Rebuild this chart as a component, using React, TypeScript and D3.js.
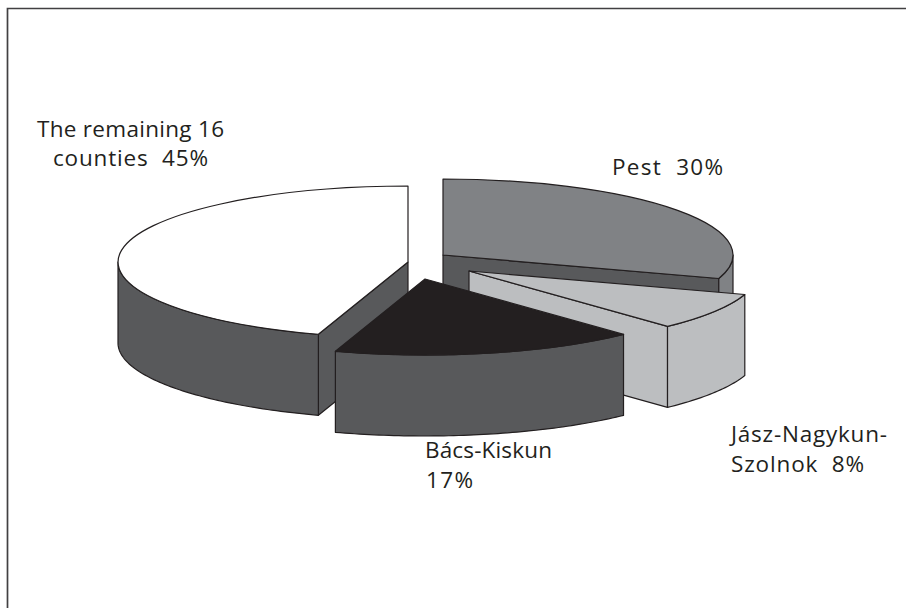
import * as d3 from "d3";

const categories = ["Pest", "Jász-Nagykun-Szolnok", "Bács-Kiskun", "The remaining 16 counties"];
const shares = [30, 8, 17, 45];

// exploded slice apexes
const apexX = [443, 469, 425, 408];
const apexY = [255, 271, 279, 262];
const topFill = ["#808285", "#bcbec0", "#231f20", "#ffffff"];
const wallFill = ["#808285", "#bcbec0", "#58595b", "#58595b"];
const faceFill = ["#58595b", "#bcbec0", "#58595b", "#58595b"];
const drawOrder = [3, 0, 1, 2];

const labels = [
  { text: "Pest  30%", x: 612, y: 175, w: 111 },
  { text: "Jász-Nagykun-", x: 731, y: 442, w: 156 },
  { text: "Szolnok  8%", x: 731, y: 472, w: 133 },
  { text: "Bács-Kiskun", x: 425, y: 458, w: 127 },
  { text: "17%", x: 426, y: 488, w: 47 },
  { text: "The remaining 16", x: 37, y: 137, w: 187 },
  { text: "counties  45%", x: 53, y: 166, w: 155 },
];

const RX = 290;
const RY = 76;
const DEPTH = 81;
const STROKE = "#231f20";

const slices = d3.pie<number>().sort(null).startAngle(0).endAngle(2 * Math.PI)(shares);
const arcTop = d3.arc<d3.PieArcDatum<number>>().innerRadius(0).outerRadius(1);

const ellipsePoint = (a: number, cx: number, cy: number): [number, number] => [
  cx + RX * Math.sin(a),
  cy - RY * Math.cos(a),
];

function wallPath(a0: number, a1: number, cx: number, cy: number) {
  const from = Math.max(a0, Math.PI / 2);
  const to = Math.min(a1, (3 * Math.PI) / 2);
  if (to <= from) return null;
  const n = Math.ceil(((to - from) * 180) / Math.PI);
  const angle = d3.scaleLinear().domain([0, n]).range([from, to]);
  const upper = d3.range(n + 1).map((i) => ellipsePoint(angle(i), cx, cy));
  const lower = upper.slice().reverse().map(([x, y]): [number, number] => [x, y + DEPTH]);
  return d3.line()([...upper, ...lower]) + "Z";
}

function facePath(a: number, cx: number, cy: number) {
  const [x, y] = ellipsePoint(a, cx, cy);
  return d3.line()([[cx, cy], [x, y], [x, y + DEPTH], [cx, cy + DEPTH]]) + "Z";
}

// cut faces turned towards the viewer
function visibleFaces(a0: number, a1: number) {
  const faces: number[] = [];
  if (a1 > 0 && a1 < Math.PI) faces.push(a1);
  if (a0 > Math.PI && a0 < 2 * Math.PI) faces.push(a0);
  return faces;
}

export default function App() {
  return (
    <svg
      width={906}
      height={608}
      style={{ position: "absolute", left: 0, top: 0, background: "#fff" }}
      fontFamily="'Open Sans'"
    >
      <path d="M7.5,608V8.5H906" fill="none" stroke="#414042" strokeWidth={1.7} />
      {drawOrder.map((i) => {
        const s = slices[i];
        const cx = apexX[i];
        const cy = apexY[i];
        const wall = wallPath(s.startAngle, s.endAngle, cx, cy);
        return (
          <g key={categories[i]} stroke={STROKE} strokeWidth={1.2} strokeLinejoin="round">
            {visibleFaces(s.startAngle, s.endAngle).map((a) => (
              <path key={a} d={facePath(a, cx, cy)} fill={faceFill[i]} />
            ))}
            {wall && <path d={wall} fill={wallFill[i]} />}
            <path
              d={arcTop(s) ?? ""}
              transform={`translate(${cx},${cy}) scale(${RX},${RY})`}
              fill={topFill[i]}
              vectorEffect="non-scaling-stroke"
            />
          </g>
        );
      })}
      {labels.map((l) => (
        <text
          key={l.text}
          x={l.x}
          y={l.y}
          fontSize={22.5}
          fill="#231f20"
          textLength={l.w}
          lengthAdjust="spacing"
          style={{ whiteSpace: "pre" }}
        >
          {l.text}
        </text>
      ))}
    </svg>
  );
}
